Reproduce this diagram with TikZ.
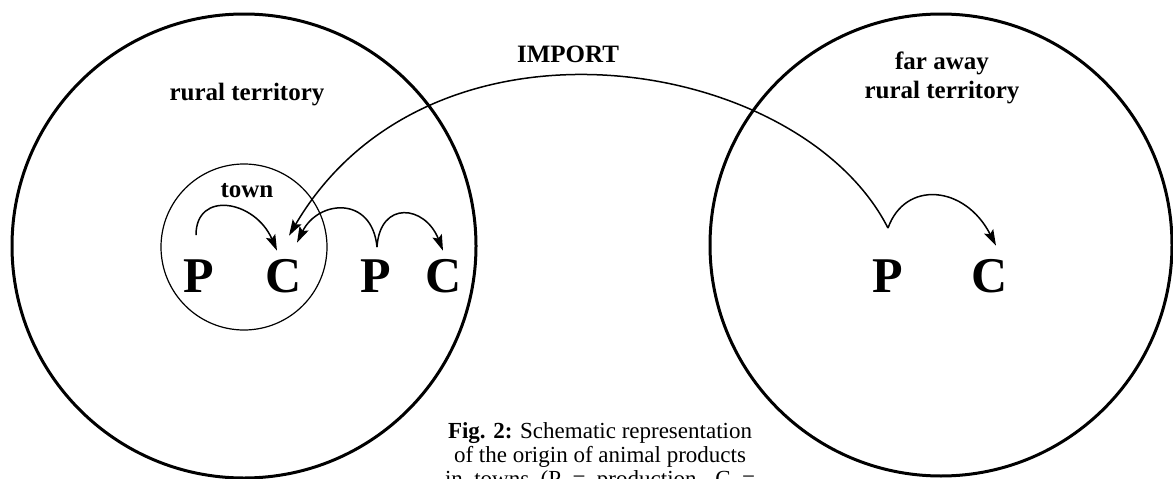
\documentclass[tikz,border=0pt]{standalone}
\usepackage{fontspec}
\setmainfont{Liberation Serif}
\usetikzlibrary{arrows.meta,calc}

\tikzset{
  territory/.style={line width=3pt},
  towncircle/.style={line width=1.2pt},
  flow/.style={line width=1.5pt, -{Stealth[length=16pt,width=10pt,inset=3pt]}},
  agent/.style={font=\bfseries\fontsize{50}{60}\selectfont, inner sep=0pt, anchor=base},
  place/.style={font=\bfseries\fontsize{25}{29}\selectfont, inner sep=0pt, anchor=base, align=center},
  legend/.style={font=\fontsize{23}{24}\selectfont, inner sep=0pt, anchor=base, align=center},
}

\begin{document}
\begin{tikzpicture}[x=1pt,y=1pt,yscale=-1,xscale=1]
\useasboundingbox (0,0) rectangle (1173,479);

% --- 1. the two territories and the town ---
\draw [territory] (244,246) circle [radius=232];
\draw [territory] (941,245) circle [radius=231];
\draw [towncircle] (244,247) circle [radius=83];

% --- 2. labels ---
\node [place] (rural) at (247,100) {rural territory};
\node [place] (far) at (942,98) {far away\\rural territory};
\node [place] (town) at (247,197) {town};
\node [place] (import) at (568,62) {IMPORT};

% --- 3. producers and consumers ---
\node [agent] (p1) at (199,292) {P};
\node [agent] (c1) at (284,292) {C};
\node [agent] (p2) at (376,292) {P};
\node [agent] (c2) at (444,292) {C};
\node [agent] (p3) at (888,292) {P};
\node [agent] (c3) at (990,292) {C};

% --- 4. flows of products ---
\draw [flow] ($(p1.north)+(-3,-24)$) .. controls (196,190) and (255,200) .. ($(c1.north)+(-7,-8)$);
\draw [flow] ($(p2.north)+(1,-12)$) .. controls (372,195) and (318,200) .. ($(c1.north)+(13,-16)$);
\draw [flow] ($(p2.north)+(1,-12)$) .. controls (380,200) and (425,205) .. ($(c2.north)+(-1,-8)$);
\draw [flow] ($(p3.north)+(0,-31)$) .. controls (905,180) and (965,185) .. ($(c3.north)+(6,-13)$);
\draw [flow] ($(p3.north)+(0,-31)$) .. controls (800,55) and (430,-5) .. ($(c1.north)+(5,-23)$);

% --- 5. caption, cut by the page ---
\node [legend] (caption) at (600,486) {\textbf{Fig. 2:} Schematic representation\\
  of the origin of animal products\\
  \makebox[310pt][s]{in towns (P = production, C =}};

\end{tikzpicture}
\end{document}
